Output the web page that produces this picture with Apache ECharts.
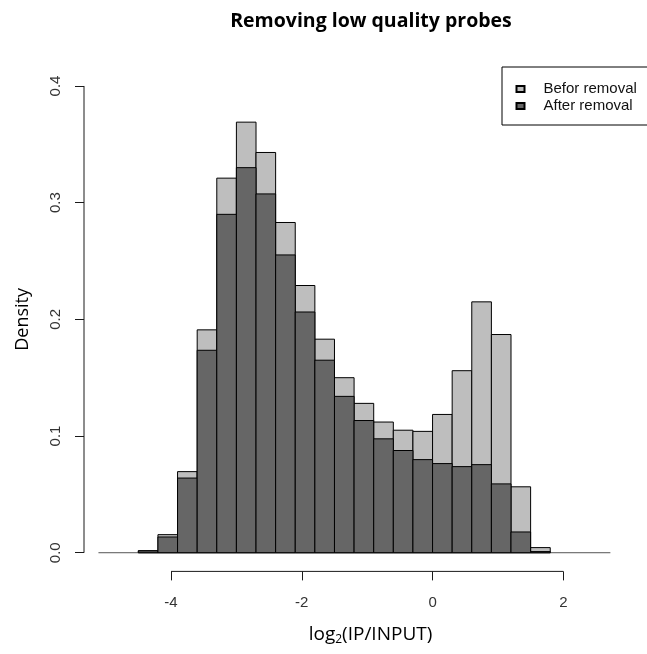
<!DOCTYPE html>
<html>
<head>
<meta charset="utf-8">
<script src="https://cdn.jsdelivr.net/npm/echarts@6/dist/echarts.min.js"></script>
<style>
  html, body { margin: 0; padding: 0; background: #fff; }
  #chart { width: 647px; height: 654px; }
</style>
</head>
<body>
<div id="chart"></div>
<script>
// Histogram bins of log2(IP/INPUT): left edge of each bin, all bins 0.3 wide
const binStarts = [-4.5, -4.2, -3.9, -3.6, -3.3, -3.0, -2.7, -2.4, -2.1, -1.8, -1.5,
                   -1.2, -0.9, -0.6, -0.3, 0.0, 0.3, 0.6, 0.9, 1.2, 1.5];
const binWidth = 0.3;

// Density per bin before and after removing low quality probes
const beforeDensity = [0.0018, 0.0155, 0.0695, 0.191, 0.321, 0.369, 0.343, 0.283, 0.229, 0.183, 0.150,
                       0.128, 0.112, 0.105, 0.104, 0.1185, 0.156, 0.215, 0.187, 0.0565, 0.0044];
const afterDensity  = [0.0016, 0.0135, 0.064, 0.1735, 0.290, 0.330, 0.3075, 0.2552, 0.2063, 0.165, 0.134,
                       0.1133, 0.0976, 0.0876, 0.0798, 0.0764, 0.0738, 0.0755, 0.059, 0.0178, 0.001];

const seriesNames = ['Befor removal', 'After removal'];

// Axis ticks
const xTicks = [-4, -2, 0, 2];
const yTicks = [0, 0.1, 0.2, 0.3, 0.4];

// Axis ranges (plot region padded beyond the tick span)
const xRange = [-5.331, 3.28];
const yRange = [-0.016, 0.416];
// Extent of the zero reference line
const baselineRange = [-5.11, 2.72];

function toRows(values) {
  return binStarts.map((x0, i) => [x0, x0 + binWidth, values[i]]);
}

function barRenderer(fill) {
  return function (params, api) {
    const x0 = api.value(0), x1 = api.value(1), h = api.value(2);
    const p0 = api.coord([x0, h]);
    const p1 = api.coord([x1, 0]);
    return {
      type: 'rect',
      shape: { x: p0[0], y: p0[1], width: p1[0] - p0[0], height: p1[1] - p0[1] },
      style: { fill: fill, stroke: '#000', lineWidth: 1 }
    };
  };
}

const lightFill = '#BEBEBE';
const darkFill = '#666666';
const axisColor = '#1a1a1a';
const tickFont = 'Liberation Sans, Arial, sans-serif';
const labelFont = 'Open Sans, Lato, sans-serif';

const chart = echarts.init(document.getElementById('chart'), null, { renderer: 'canvas' });

chart.setOption({
  animation: false,
  backgroundColor: '#fff',
  graphic: [{
    type: 'text',
    x: 371, y: 21,
    style: {
      text: 'Removing low quality probes',
      font: 'bold 19.5px ' + labelFont,
      fill: '#000',
      textAlign: 'center',
      textVerticalAlign: 'middle'
    }
  }],
  legend: {
    data: seriesNames,
    orient: 'vertical',
    left: 502,
    top: 67,
    padding: [13.5, 12, 10.5, 13.5],
    itemGap: 0,
    itemWidth: 8,
    itemHeight: 6,
    icon: 'rect',
    borderColor: '#000',
    borderWidth: 1,
    textStyle: {
      fontFamily: tickFont,
      fontSize: 15,
      color: '#111',
      lineHeight: 17,
      padding: [0, 0, 0, 14]
    }
  },
  grid: {
    left: 84, right: 0, top: 67.3, bottom: 654 - 571.4,
    containLabel: false
  },
  xAxis: {
    type: 'value',
    min: xRange[0], max: xRange[1],
    splitLine: { show: false },
    axisLine: { show: false, onZero: false },
    axisTick: {
      show: true, inside: false, length: 9,
      customValues: xTicks,
      lineStyle: { color: axisColor, width: 1 }
    },
    axisLabel: {
      customValues: xTicks,
      margin: 24,
      fontFamily: tickFont,
      fontSize: 15,
      color: '#333',
      formatter: v => String(v)
    },
    name: 'log{sub|2}(IP/INPUT)',
    nameLocation: 'middle',
    nameGap: 53,
    nameTextStyle: {
      fontFamily: labelFont,
      fontSize: 19,
      color: '#000',
      padding: [0, 0, 0, 10],
      rich: {
        sub: { fontFamily: labelFont, fontSize: 12, color: '#000', verticalAlign: 'bottom', padding: [9, 0, 0, 0] }
      }
    }
  },
  yAxis: {
    type: 'value',
    min: yRange[0], max: yRange[1],
    splitLine: { show: false },
    axisLine: { show: false, onZero: false },
    axisTick: {
      show: true, inside: false, length: 9,
      customValues: yTicks,
      lineStyle: { color: axisColor, width: 1 }
    },
    axisLabel: {
      customValues: yTicks,
      rotate: 90,
      margin: 21,
      fontFamily: tickFont,
      fontSize: 15,
      color: '#333',
      formatter: v => v.toFixed(1)
    },
    name: 'Density',
    nameLocation: 'middle',
    nameGap: 52,
    nameTextStyle: {
      fontFamily: labelFont,
      fontSize: 18,
      color: '#000'
    }
  },
  series: [
    {
      name: seriesNames[0],
      type: 'custom',
      renderItem: barRenderer(lightFill),
      itemStyle: { color: lightFill, borderColor: '#000', borderWidth: 1 },
      encode: { x: [0, 1], y: 2 },
      data: toRows(beforeDensity),
      z: 2
    },
    {
      name: seriesNames[1],
      type: 'custom',
      renderItem: barRenderer(darkFill),
      itemStyle: { color: darkFill, borderColor: '#000', borderWidth: 1 },
      encode: { x: [0, 1], y: 2 },
      data: toRows(afterDensity),
      z: 3
    },
    {
      // zero reference line under the bars
      name: 'baseline',
      type: 'line',
      data: [[baselineRange[0], 0], [baselineRange[1], 0]],
      symbol: 'none',
      lineStyle: { color: '#555', width: 1 },
      silent: true,
      z: 1
    },
    {
      // x axis line spanning the tick range
      name: 'xaxisline',
      type: 'line',
      data: [[xTicks[0], yRange[0]], [xTicks[xTicks.length - 1], yRange[0]]],
      symbol: 'none',
      clip: false,
      lineStyle: { color: axisColor, width: 1 },
      silent: true,
      z: 4
    },
    {
      // y axis line spanning the tick range
      name: 'yaxisline',
      type: 'line',
      data: [[xRange[0], yTicks[0]], [xRange[0], yTicks[yTicks.length - 1]]],
      symbol: 'none',
      clip: false,
      lineStyle: { color: axisColor, width: 1 },
      silent: true,
      z: 4
    }
  ]
});
</script>
</body>
</html>
